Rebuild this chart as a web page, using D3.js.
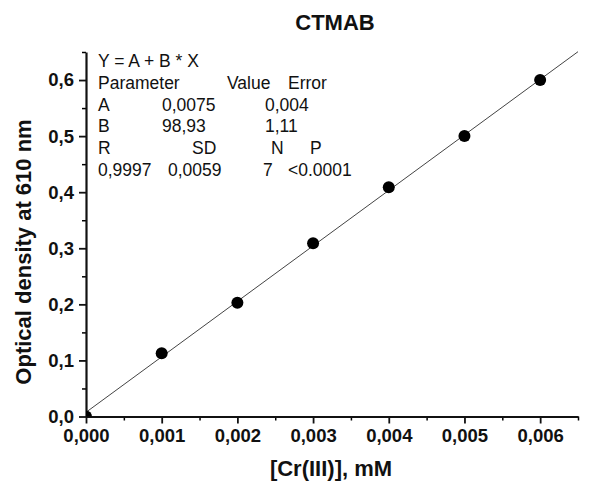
<!DOCTYPE html>
<html>
<head>
<meta charset="utf-8">
<script src="https://cdn.jsdelivr.net/npm/d3@7"></script>
<style>
  body { margin: 0; background: #fff; }
  svg text { font-family: "Liberation Sans", Arial, sans-serif; fill: #111; }
</style>
</head>
<body>
<div id="chart"></div>
<script>
// data
var conc = [0, 0.001, 0.002, 0.003, 0.004, 0.005, 0.006];
var od = [0, 0.113, 0.203, 0.309, 0.409, 0.500, 0.600];
var fitA = 0.0075, fitB = 98.93;
var xTicks = [0, 0.001, 0.002, 0.003, 0.004, 0.005, 0.006];
var yTicks = [0, 0.1, 0.2, 0.3, 0.4, 0.5, 0.6];
var xMinor = [0.0005, 0.0015, 0.0025, 0.0035, 0.0045, 0.0055, 0.0065];
var yMinor = [0.05, 0.15, 0.25, 0.35, 0.45, 0.55, 0.65];
var statRows = [
  [["Y = A + B * X", 98]],
  [["Parameter", 98], ["Value", 227], ["Error", 288]],
  [["A", 98], ["0,0075", 162], ["0,004", 265]],
  [["B", 98], ["98,93", 162], ["1,11", 265]],
  [["R", 98], ["SD", 192], ["N", 271], ["P", 310]],
  [["0,9997", 98], ["0,0059", 168], ["7", 263], ["<0.0001", 288]]
];

var W = 594, H = 485;
var m = {left: 86, top: 52};
var w = 492, h = 364.5;

var svg = d3.select("#chart").append("svg")
  .attr("width", W).attr("height", H);

var x = d3.scaleLinear().domain([0, 0.0065]).range([0, w]);
var y = d3.scaleLinear().domain([0, 0.65]).range([h, 0]);

var g = svg.append("g").attr("transform", "translate(" + m.left + "," + m.top + ")");

svg.append("defs").append("clipPath").attr("id", "clip")
  .append("rect").attr("x", 0).attr("y", 0).attr("width", w).attr("height", h);

var fmt = function(n) { return function(d) { return d3.format("." + n + "f")(d).replace(".", ","); }; };

// minor ticks first
g.append("g").attr("transform", "translate(0," + h + ")")
  .call(d3.axisBottom(x).tickValues(xMinor).tickSize(4).tickFormat(""))
  .call(function(a) { a.select(".domain").remove(); a.selectAll("line").attr("stroke-width", 1.5); });
g.append("g")
  .call(d3.axisLeft(y).tickValues(yMinor).tickSize(4).tickFormat(""))
  .call(function(a) { a.select(".domain").remove(); a.selectAll("line").attr("stroke-width", 1.5); });

var xa = g.append("g").attr("transform", "translate(0," + h + ")")
  .call(d3.axisBottom(x).tickValues(xTicks).tickSize(7).tickSizeOuter(0).tickPadding(5).tickFormat(fmt(3)));
var ya = g.append("g")
  .call(d3.axisLeft(y).tickValues(yTicks).tickSize(7).tickSizeOuter(0).tickPadding(5).tickFormat(fmt(1)));

[xa, ya].forEach(function(a) {
  a.select(".domain").attr("stroke-width", 2.2).attr("stroke", "#111");
  a.selectAll(".tick line").attr("stroke-width", 1.8).attr("stroke", "#111");
  a.selectAll("text").style("font-size", "18.5px").style("font-weight", "bold").attr("fill", "#111");
});

// fit line
var line = d3.line().x(function(d) { return x(d); }).y(function(d) { return y(fitA + fitB * d); });
g.append("path").datum([0, 0.0065])
  .attr("d", line).attr("fill", "none").attr("stroke", "#444").attr("stroke-width", 1);

// points
g.append("g").attr("clip-path", "url(#clip)")
  .selectAll("circle").data(conc).enter().append("circle")
  .attr("cx", function(d) { return x(d); })
  .attr("cy", function(d, i) { return y(od[i]); })
  .attr("r", 6).attr("fill", "#000");

// fit statistics
statRows.forEach(function(row, i) {
  row.forEach(function(c) {
    svg.append("text").attr("x", c[1]).attr("y", 67 + i * 21.8)
      .style("font-size", "17.5px").text(c[0]);
  });
});

// titles
svg.append("text").attr("x", 335).attr("y", 30).attr("text-anchor", "middle")
  .style("font-size", "22px").style("font-weight", "bold").text("CTMAB");
svg.append("text").attr("x", 331).attr("y", 476).attr("text-anchor", "middle")
  .style("font-size", "22px").style("font-weight", "bold").text("[Cr(III)], mM");
svg.append("text").attr("transform", "translate(31,252) rotate(-90)").attr("text-anchor", "middle")
  .style("font-size", "22px").style("font-weight", "bold").text("Optical density at 610 nm");
</script>
</body>
</html>
